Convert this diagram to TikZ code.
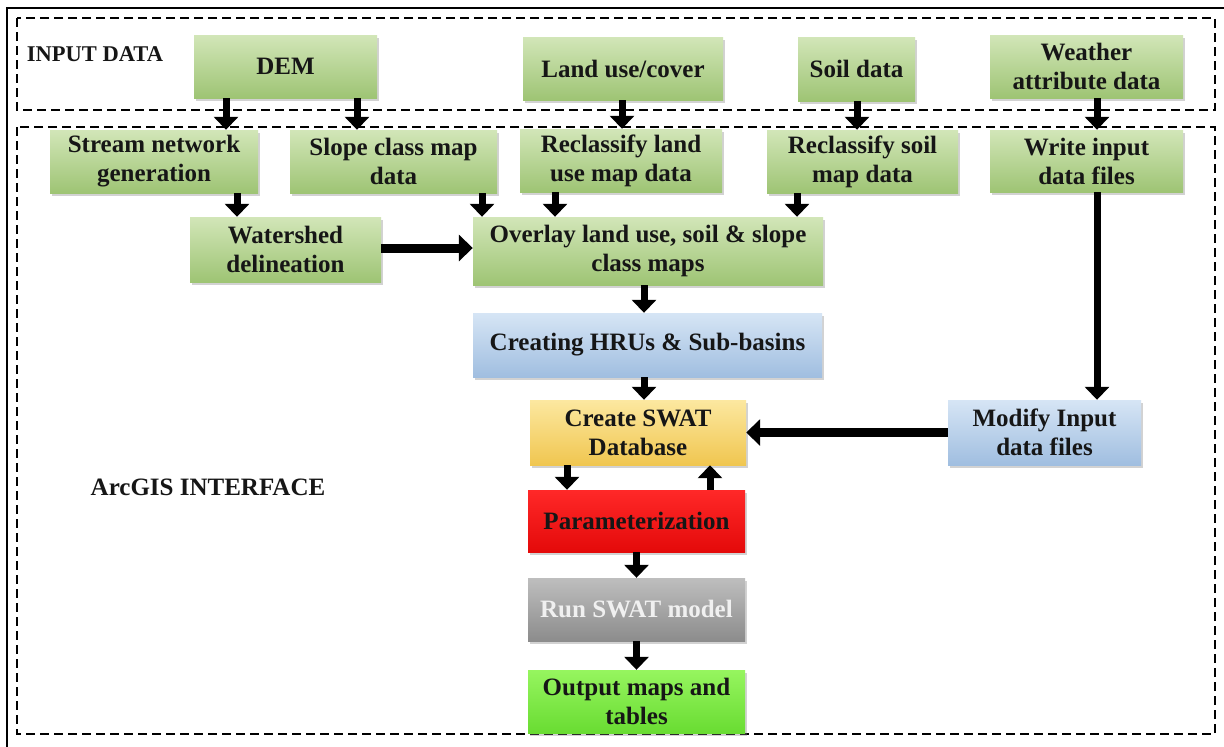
\documentclass[tikz,border=0pt]{standalone}
\usepackage{fontspec}
\setmainfont{Liberation Serif}
\usetikzlibrary{arrows.meta,shadows}

\definecolor{grtop}{RGB}{210,230,184}
\definecolor{grbot}{RGB}{158,196,116}
\definecolor{bltop}{RGB}{214,229,245}
\definecolor{blbot}{RGB}{160,190,224}
\definecolor{yltop}{RGB}{252,232,160}
\definecolor{ylbot}{RGB}{240,198,80}
\definecolor{rdtop}{RGB}{255,40,40}
\definecolor{rdbot}{RGB}{228,10,10}
\definecolor{gytop}{RGB}{190,190,190}
\definecolor{gybot}{RGB}{140,140,140}
\definecolor{brtop}{RGB}{150,245,95}
\definecolor{brbot}{RGB}{105,220,50}
\definecolor{inktext}{RGB}{22,22,22}

\tikzset{
  box/.style={align=center, inner sep=0pt, text=inktext,
    font=\bfseries\fontsize{25}{29}\selectfont,
    drop shadow={shadow xshift=2pt, shadow yshift=-3pt, opacity=0.35, fill=gray}},
  gbox/.style={box, top color=grtop, bottom color=grbot},
  bbox/.style={box, top color=bltop, bottom color=blbot},
  ybox/.style={box, top color=yltop, bottom color=ylbot},
  rbox/.style={box, top color=rdtop, bottom color=rdbot},
  gybox/.style={box, top color=gytop, bottom color=gybot, text=white!94!black},
  obox/.style={box, top color=brtop, bottom color=brbot},
  region/.style={draw=black, line width=1.8pt, dash pattern=on 9pt off 5pt},
  arr/.style={draw=black, line width=7pt, -{Triangle[width=24pt,length=13pt]}},
  harr/.style={draw=black, line width=9pt, -{Triangle[width=26pt,length=14pt]}},
  lbl/.style={font=\bfseries, text=inktext, inner sep=0pt}
}

\begin{document}
\begin{tikzpicture}[x=1pt, y=-1pt]
\useasboundingbox (0,0) rectangle (1224,747);
\clip (0,0) rectangle (1224,747);
\fill[white] (0,0) rectangle (1224,747);

% outer frame
\draw[line width=1.2pt] (7,8) rectangle (1240,760);

% dashed regions
\draw[region] (17,18) rectangle (1215,110);
\draw[region] (17,127) rectangle (1215,734);

\node[lbl, font=\bfseries\fontsize{22.5}{26}\selectfont] (inlbl) at (95,54) {INPUT DATA};
\node[lbl, font=\bfseries\fontsize{25}{28}\selectfont] (arclbl) at (208,487) {ArcGIS INTERFACE};

% input data row
\node[gbox, minimum width=183pt, minimum height=63pt] (dem) at (285.5,66.5) {DEM};
\node[gbox, minimum width=200pt, minimum height=63pt] (land) at (623,68.5) {Land use/cover};
\node[gbox, minimum width=117pt, minimum height=64pt] (soil) at (856.5,69) {Soil data};
\node[gbox, minimum width=193pt, minimum height=63pt] (weather) at (1086.5,66.5) {Weather\\attribute data};

% processing row
\node[gbox, minimum width=208pt, minimum height=63pt] (stream) at (154,161.5) {Stream network\\generation};
\node[gbox, minimum width=207pt, minimum height=63pt] (slope) at (393.5,161.5) {Slope class map\\data};
\node[gbox, minimum width=202pt, minimum height=63pt] (reland) at (621,160.5) {Reclassify land\\use map data};
\node[gbox, minimum width=191pt, minimum height=63pt] (resoil) at (862.5,161.5) {Reclassify soil\\map data};
\node[gbox, minimum width=193pt, minimum height=62pt] (write) at (1086.5,161) {Write input\\data files};

\node[gbox, minimum width=191pt, minimum height=65pt] (water) at (285.5,249.5) {Watershed\\delineation};
\node[gbox, minimum width=350pt, minimum height=68pt] (overlay) at (648,251) {Overlay land use, soil \& slope\\class maps};

\node[bbox, minimum width=349pt, minimum height=64pt] (hru) at (647.5,345) {Creating HRUs \& Sub-basins};
\node[ybox, minimum width=216pt, minimum height=65pt] (swat) at (638,432.5) {Create SWAT\\Database};
\node[bbox, minimum width=193pt, minimum height=65pt] (modify) at (1044.5,432.5) {Modify Input\\data files};
\node[rbox, minimum width=217pt, minimum height=62pt] (param) at (636.5,521) {Parameterization};
\node[gybox, minimum width=217pt, minimum height=63pt] (run) at (636.5,609.5) {Run SWAT model};
\node[obox, minimum width=217pt, minimum height=63pt] (out) at (636.5,701.5) {Output maps and\\tables};

% connectors
\draw[arr] (dem.south -| 226,0) -- (stream.north -| 226,0);
\draw[arr] (dem.south -| 357,0) -- (slope.north -| 357,0);
\draw[arr] (land.south -| 622,0) -- (reland.north -| 622,0);
\draw[arr] (soil.south -| 857,0) -- (resoil.north -| 857,0);
\draw[arr] (weather.south -| 1097,0) -- (write.north -| 1097,0);

\draw[arr] (stream.south -| 237,0) -- (water.north -| 237,0);
\draw[arr] (slope.south -| 482,0) -- (overlay.north -| 482,0);
\draw[arr] (reland.south -| 555,0) -- (overlay.north -| 555,0);
\draw[arr] (resoil.south -| 797,0) -- (overlay.north -| 797,0);
\draw[harr] (water.east |- 0,248) -- (overlay.west |- 0,248);

\draw[arr] (overlay.south -| 644,0) -- (hru.north -| 644,0);
\draw[arr] (hru.south -| 644,0) -- (swat.north -| 644,0);
\draw[arr] (write.south -| 1097,0) -- (modify.north -| 1097,0);
\draw[harr] (modify.west) -- (swat.east |- modify.west);

\draw[arr] (swat.south -| 567,0) -- (param.north -| 567,0);
\draw[arr] (param.north -| 710,0) -- (swat.south -| 710,0);
\draw[arr] (param.south) -- (run.north);
\draw[arr] (run.south) -- (out.north);
\end{tikzpicture}
\end{document}
